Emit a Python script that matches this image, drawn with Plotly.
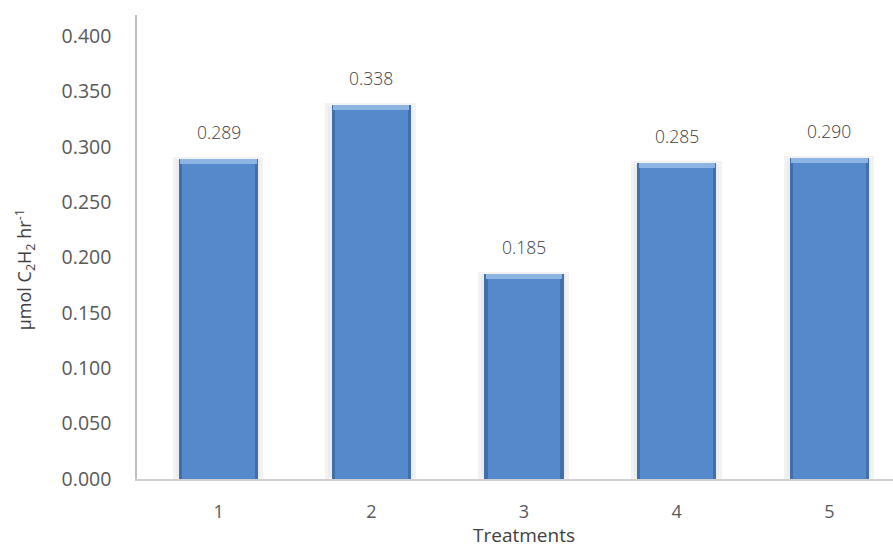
import plotly.graph_objects as go

# Nitrogenase activity (acetylene reduction) per treatment
treatments = ["1", "2", "3", "4", "5"]
activity = [0.289, 0.338, 0.185, 0.285, 0.290]
y_ticks = [0.0, 0.05, 0.10, 0.15, 0.20, 0.25, 0.30, 0.35, 0.40]

CAP = 0.0045  # height of the bevelled highlight at the top of each bar

fig = go.Figure()

# soft halo behind each bar
fig.add_trace(go.Bar(
    x=treatments, y=activity, width=0.575,
    marker=dict(color="#ececec", line=dict(color="#f2f2f2", width=3)),
    hoverinfo="skip", showlegend=False,
))
# darker outer body (bar edges)
fig.add_trace(go.Bar(
    x=treatments, y=activity, width=0.52,
    marker=dict(color="#406fab", line=dict(width=0)),
    hoverinfo="skip", showlegend=False,
))
# main face of the bar
fig.add_trace(go.Bar(
    x=treatments, y=[v - CAP for v in activity], width=0.475,
    marker=dict(color="#548acc", line=dict(width=0)),
    hoverinfo="skip", showlegend=False,
))
# light top bevel
fig.add_trace(go.Bar(
    x=treatments, y=[CAP] * len(activity), base=[v - CAP for v in activity],
    width=0.50,
    marker=dict(color="#8db5e4", line=dict(width=0)),
    hoverinfo="skip", showlegend=False,
))

# value labels above the bars (category axis: position = category index)
for i, v in enumerate(activity):
    fig.add_annotation(
        x=i, y=v, text=f"{v:.3f}", showarrow=False,
        yanchor="middle", yshift=27,
        font=dict(family="Open Sans", size=17.5, color="#404040", weight=300),
    )

# axis titles
fig.add_annotation(
    xref="paper", yref="paper", x=-0.148, y=0.45,
    text="μmol C<sub>2</sub>H<sub>2</sub> hr<sup>-1</sup>",
    textangle=-90, showarrow=False, xanchor="center", yanchor="middle",
    font=dict(family="Open Sans", size=18, color="#404040"),
)
fig.add_annotation(
    xref="paper", yref="paper", x=0.512, y=-0.12,
    text="Treatments", showarrow=False, xanchor="center", yanchor="middle",
    font=dict(family="Open Sans", size=19, color="#404040"),
)

fig.update_layout(
    width=893, height=547,
    margin=dict(l=137, r=0, t=15, b=68),
    paper_bgcolor="white", plot_bgcolor="white",
    barmode="overlay", bargap=0,
    xaxis=dict(
        type="category", range=[-0.534, 4.416],
        showline=True, linecolor="#d0d0d0", linewidth=1.5,
        showgrid=False, ticks="", zeroline=False,
        tickfont=dict(family="Open Sans", size=18, color="#595959"),
        ticklabelstandoff=16,
    ),
    yaxis=dict(
        range=[0, 0.419], tickvals=y_ticks, tickformat=".3f",
        showline=True, linecolor="#bfbfbf", linewidth=1.5,
        showgrid=False, ticks="", zeroline=False,
        tickfont=dict(family="Open Sans", size=19.5, color="#595959"),
        ticklabelstandoff=20,
    ),
)

fig.write_html("out.html")
